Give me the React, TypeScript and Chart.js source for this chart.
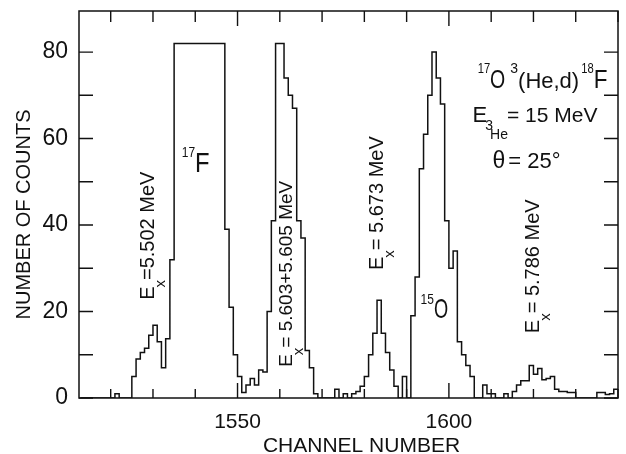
import React, { useEffect, useRef } from "react";
import { Chart, registerables } from "chart.js";

Chart.register(...registerables);

// ---- data -------------------------------------------------------------
// counts per channel, first bin starts at channel 1513 (one bin per channel)
const FIRST_CHANNEL = 1513;
const LAST_EDGE = 1640;
const counts: number[] = [
  0, 0, 0, 0, 0, 0, 0, 0, 1, 0, // 1513-1522
  0, 0, 5, 9, 10.5, 11.5, 14.5, 16.8, 13, 7, // 1523-1532
  13.7, 32, 82, 82, 82, 82, 82, 82, 82, 82, // 1533-1542
  82, 82, 82, 82, 39, 21, 10, 5, 1.3, 3, // 1543-1552
  4.5, 3, 6.5, 6, 20, 41, 82, 82, 74, 70, // 1553-1562
  67, 41, 37, 11, 7, 1, 0, 0, 0, 0, // 1563-1572
  2, 0, 1, 0, 1, 1.5, 2.7, 5, 10, 15, // 1573-1582
  22.6, 15, 10.5, 6.5, 2.7, 0, 5, 0, 19, 28, // 1583-1592
  53, 61, 70, 80, 74, 68, 41, 30, 34, 13, // 1593-1602
  10, 7.5, 5, 0, 0, 3, 1, 1, 0, 0, // 1603-1612
  1, 0, 1.5, 3, 4, 4, 7.5, 5.5, 6.8, 4.2, // 1613-1622
  4.5, 5, 2, 1.5, 1.5, 1.3, 1.3, 0, 0, 0, // 1623-1632
  0, 0, 1.3, 1.3, 0.8, 1, 2, // 1633-1639
];
const channels: number[] = counts.map((_, i) => FIRST_CHANNEL + i);

const xMin = 1512.5;
const xMax = 1640;
const yMin = 0;
const yMax = 89.5;
const xTickStep = 10;
const xLabelEvery = 50;
const yTickStep = 10;
const yLabelEvery = 20;

const xTitle = "CHANNEL NUMBER";
const yTitle = "NUMBER OF COUNTS";

// annotation anchors in data coordinates (channel, counts)
type Seg = { t: string; size: number; dy?: number; dx?: number; sx?: number };
type Note = { ch: number; cnt: number; rotated: boolean; segs: Seg[] };

const notes: Note[] = [
  {
    ch: 1530.2, cnt: 22.7, rotated: true,
    segs: [{ t: "E", size: 20 }, { t: "x", size: 15, dy: 11, dx: -1 }, { t: "=5.502 MeV", size: 20 }],
  },
  {
    ch: 1536.8, cnt: 52.3, rotated: false,
    segs: [{ t: "17", size: 15, dy: -15, sx: 0.8 }, { t: "F", size: 28, sx: 0.85 }],
  },
  {
    ch: 1562.9, cnt: 7.2, rotated: true,
    segs: [{ t: "E", size: 19 }, { t: "x", size: 15, dy: 11, dx: -1 }, { t: "= 5.603+5.605 MeV", size: 19 }],
  },
  {
    ch: 1584.3, cnt: 29.6, rotated: true,
    segs: [{ t: "E", size: 20 }, { t: "x", size: 15, dy: 11, dx: -1 }, { t: "= 5.673 MeV", size: 20 }],
  },
  {
    ch: 1593.3, cnt: 18.5, rotated: false,
    segs: [{ t: "15", size: 15, dy: -14, sx: 0.8 }, { t: "O", size: 28, sx: 0.65 }],
  },
  {
    ch: 1621.3, cnt: 15.0, rotated: true,
    segs: [{ t: "E", size: 20 }, { t: "x", size: 15, dy: 11, dx: -1 }, { t: "= 5.786 MeV", size: 20 }],
  },
  {
    ch: 1606.8, cnt: 71.7, rotated: false,
    segs: [
      { t: "17", size: 14, dy: -15, sx: 0.8 },
      { t: "O", size: 26, sx: 0.75 },
      { t: "3", size: 14, dy: -15, dx: 5 },
      { t: "(He,d)", size: 22 },
      { t: "18", size: 14, dy: -15, dx: 2, sx: 0.8 },
      { t: "F", size: 25, sx: 0.9 },
    ],
  },
  {
    ch: 1605.6, cnt: 63.8, rotated: false,
    segs: [
      { t: "E", size: 22 },
      { t: "3", size: 14, dy: 8, dx: -2 },
      { t: "He", size: 14, dy: 17, dx: -3 },
      { t: "=", size: 21, dx: -1 },
      { t: " 15 MeV", size: 21 },
    ],
  },
  {
    ch: 1610.3, cnt: 53.2, rotated: false,
    segs: [{ t: "θ", size: 23 }, { t: "=", size: 22, dx: 3 }, { t: " 25°", size: 22 }],
  },
];

// ---- style ------------------------------------------------------------
const INK = "#111111";
const FONT = "'Liberation Sans', Arial, Helvetica, sans-serif";

function drawRich(ctx: CanvasRenderingContext2D, x: number, y: number, segs: Seg[], rotated: boolean) {
  ctx.save();
  ctx.translate(x, y);
  if (rotated) ctx.rotate(-Math.PI / 2);
  ctx.fillStyle = INK;
  ctx.textBaseline = "alphabetic";
  ctx.textAlign = "left";
  let cx = 0;
  for (const s of segs) {
    cx += s.dx ?? 0;
    const sx = s.sx ?? 1;
    ctx.font = `${s.size}px ${FONT}`;
    ctx.save();
    ctx.translate(cx, s.dy ?? 0);
    ctx.scale(sx, 1);
    ctx.fillText(s.t, 0, 0);
    ctx.restore();
    cx += ctx.measureText(s.t).width * sx;
  }
  ctx.restore();
}

const framePlugin = {
  id: "frameAndNotes",
  afterDraw(chart: any) {
    const ctx: CanvasRenderingContext2D = chart.ctx;
    const { left, right, top, bottom } = chart.chartArea;
    const xs = chart.scales.x;
    const ys = chart.scales.y;
    ctx.save();
    ctx.strokeStyle = INK;
    ctx.lineWidth = 1.4;
    ctx.beginPath();
    for (const t of xs.ticks) {
      const px = xs.getPixelForValue(t.value);
      const major = Math.round(t.value) % xLabelEvery === 0;
      ctx.moveTo(px, bottom);
      ctx.lineTo(px, bottom - (major ? 15 : 9));
      ctx.moveTo(px, top);
      ctx.lineTo(px, top + (major ? 15 : 11));
    }
    for (const t of ys.ticks) {
      const py = ys.getPixelForValue(t.value);
      ctx.moveTo(left, py);
      ctx.lineTo(left + 14, py);
      ctx.moveTo(right, py);
      ctx.lineTo(right - 14, py);
    }
    ctx.stroke();
    ctx.lineWidth = 1.5;
    ctx.strokeRect(left, top, right - left, bottom - top);

    // axis titles
    ctx.fillStyle = INK;
    ctx.textAlign = "center";
    ctx.textBaseline = "alphabetic";
    ctx.font = `21px ${FONT}`;
    ctx.fillText(xTitle, (left + right) / 2 + 13, bottom + 54);
    ctx.save();
    ctx.translate(left - 49, (top + bottom) / 2 + 10);
    ctx.rotate(-Math.PI / 2);
    ctx.font = `20px ${FONT}`;
    ctx.fillText(yTitle, 0, 0);
    ctx.restore();

    for (const n of notes) {
      drawRich(ctx, xs.getPixelForValue(n.ch), ys.getPixelForValue(n.cnt), n.segs, n.rotated);
    }
    ctx.restore();
  },
};

export default function App() {
  const ref = useRef<HTMLCanvasElement | null>(null);

  useEffect(() => {
    document.body.style.margin = "0";
    const canvas = ref.current;
    if (!canvas) return;
    const points = channels.map((c, i) => ({ x: c, y: counts[i] }));
    points.push({ x: LAST_EDGE, y: counts[counts.length - 1] });

    const chart = new Chart(canvas, {
      type: "line",
      data: {
        datasets: [
          {
            data: points,
            stepped: true,
            borderColor: INK,
            borderWidth: 1.5,
            pointRadius: 0,
            fill: false,
          },
        ],
      },
      options: {
        responsive: false,
        animation: false,
        devicePixelRatio: 1,
        layout: { padding: { left: 0, right: 8, top: 11, bottom: 0 } },
        plugins: { legend: { display: false }, tooltip: { enabled: false } },
        scales: {
          x: {
            type: "linear",
            position: "bottom",
            min: xMin,
            max: xMax,
            grid: { display: false, drawTicks: false },
            border: { display: false },
            ticks: {
              stepSize: xTickStep,
              includeBounds: false,
              autoSkip: false,
              maxRotation: 0,
              padding: 12,
              color: INK,
              font: { family: FONT, size: 21 },
              callback: (v: any) => (Math.round(Number(v)) % xLabelEvery === 0 ? String(Math.round(Number(v))) : ""),
            },
            afterFit: (s: any) => {
              s.height = 56;
              s.paddingLeft = 0;
              s.paddingRight = 0;
            },
          },
          y: {
            type: "linear",
            position: "left",
            min: yMin,
            max: yMax,
            grid: { display: false, drawTicks: false },
            border: { display: false },
            ticks: {
              stepSize: yTickStep,
              includeBounds: false,
              autoSkip: false,
              padding: 11,
              color: INK,
              font: { family: FONT, size: 23 },
              callback: (v: any) => (Math.round(Number(v)) % yLabelEvery === 0 ? String(Math.round(Number(v))) : ""),
            },
            afterFit: (s: any) => {
              s.width = 79;
              s.paddingTop = 0;
              s.paddingBottom = 0;
            },
          },
        },
      },
      plugins: [framePlugin],
    });
    return () => chart.destroy();
  }, []);

  return <canvas ref={ref} width={626} height={454} style={{ display: "block" }} />;
}
